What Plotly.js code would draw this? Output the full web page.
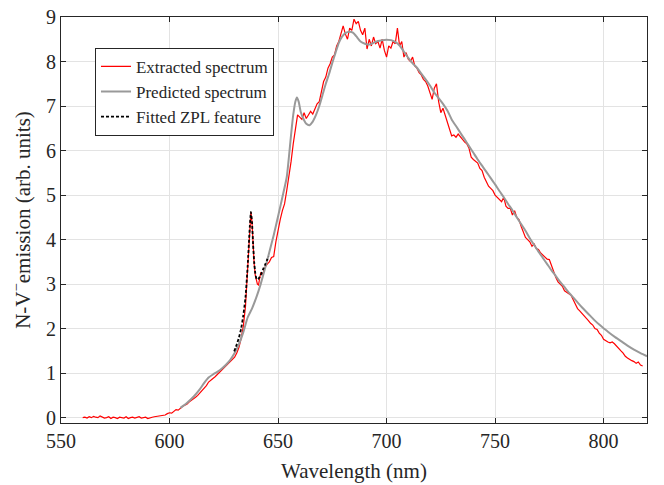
<!DOCTYPE html>
<html>
<head>
<meta charset="utf-8">
<script src="https://cdn.plot.ly/plotly-3.0.1.min.js"></script>
<style>html,body{margin:0;padding:0;background:#fff;}#chart{width:664px;height:485px;}</style>
</head>
<body>
<div id="chart"></div>
<script>
// Extracted spectrum (red)
var extractedWl = [560,561,562,563,564,565,566,567,568,569,570,571,572,573,574,575,576,577,578,579,580,581,582,583,584,585,586,587,588,589,590,591,592,593,594,595,596,597,598,599,
600,601,602,603,604,605,606,607,608,609,610,611,612,613,614,615,616,617,618,619,620,621,622,623,624,625,626,627,628,629,630,631,632,633,634,635,636,637,637.5,638,638.5,639,639.5,640,640.5,641,641.5,642,643,644,645,646,647,648,649,
650,651,652,653,654,655,656,657,658,659,660,661,662,663,664,665,666,667,668,669,670,671,672,673,674,675,676,677,678,679,680,681,682,683,684,685,686,687,688,689,690,691,692,693,694,695,696,697,698,699,
700,701,702,703,704,705,706,707,708,709,710,711,712,713,714,715,716,717,718,719,720,721,722,723,724,725,726,727,728,729,730,731,732,733,734,735,736,737,738,739,740,741,742,743,744,745,746,747,748,749,
750,751,752,753,754,755,756,757,758,759,760,761,762,763,764,765,766,767,768,769,770,771,772,773,774,775,776,777,778,779,780,781,782,783,784,785,786,787,788,789,790,791,792,793,794,795,796,797,798,799,
800,801,802,803,804,805,806,807,808,809,810,811,812,813,814,815,816,817,818];
var extractedVal = [0.00,0.01,-0.01,0.02,0.00,0.03,0.01,0.00,0.04,0.01,-0.01,0.00,0.02,-0.02,0.01,0.00,-0.02,0.01,0.00,-0.01,0.02,-0.02,0.00,0.01,-0.01,0.00,0.02,-0.01,0.00,0.01,-0.02,0.00,0.01,0.02,0.03,0.04,0.05,0.06,0.06,0.09,
0.11,0.10,0.14,0.18,0.17,0.22,0.25,0.28,0.30,0.35,0.38,0.42,0.46,0.50,0.55,0.60,0.66,0.72,0.80,0.85,0.88,0.92,0.97,1.02,1.05,1.10,1.15,1.20,1.26,1.30,1.36,1.45,1.58,1.78,2.05,2.50,3.30,4.30,4.62,4.40,3.85,3.45,3.20,3.08,3.00,2.98,3.10,3.25,3.22,3.38,3.45,3.50,3.60,3.62,3.95,
4.25,4.45,4.65,4.80,5.10,5.40,5.75,6.15,6.45,6.80,6.75,6.70,6.85,6.72,6.80,6.88,6.82,6.95,7.05,7.10,7.30,7.55,7.65,7.85,7.95,8.10,8.15,8.35,8.45,8.60,8.80,8.62,8.50,8.75,8.70,8.95,8.85,8.90,8.70,8.60,8.75,8.28,8.50,8.35,8.55,8.40,8.45,8.30,8.50,8.25,
8.10,8.35,8.30,8.45,8.40,8.75,8.35,8.45,8.10,8.20,8.05,8.00,8.10,7.90,7.85,7.75,7.70,7.60,7.55,7.45,7.30,7.15,7.40,7.50,7.10,6.85,6.95,6.80,6.60,6.45,6.33,6.35,6.30,6.37,6.30,6.25,6.19,6.15,6.05,5.85,5.80,5.75,5.72,5.60,5.55,5.40,5.30,5.20,5.15,5.10,
5.00,4.95,4.90,4.85,4.95,4.75,4.70,4.70,4.55,4.65,4.50,4.45,4.30,4.15,4.05,4.00,3.95,3.85,3.90,3.80,3.78,3.70,3.65,3.60,3.56,3.55,3.40,3.30,3.15,3.05,3.00,2.95,2.85,2.82,2.80,2.75,2.65,2.55,2.45,2.40,2.35,2.28,2.25,2.18,2.12,2.08,2.00,1.98,1.90,1.85,
1.76,1.72,1.70,1.68,1.70,1.66,1.60,1.55,1.50,1.45,1.38,1.34,1.30,1.28,1.26,1.22,1.25,1.18,1.16];

// Predicted spectrum (grey)
var predictedWl = [605,608,610,612,614,616,618,620,622,624,626,628,630,632,634,636,638,640,642,644,646,648,650,652,654,655,656,657,658,658.7,659.5,660.5,662,663,664.5,666,667.5,669,670.5,672,673.5,675,676.5,678,679.5,681,683,684.5,686,688,690,692,694,696,698,700,702,704,706,708,710,712,714,716,718,720,722,724,726,728,730,732,734,736,738,740,742,744,746,748,750,752,754,756,758,760,762,764,766,768,770,772,774,776,778,780,782,784,786,788,790,792,794,796,798,800,802,805,808,811,814,817,820];
var predictedVal = [0.22,0.33,0.42,0.52,0.64,0.78,0.90,0.97,1.03,1.10,1.19,1.30,1.45,1.65,1.92,2.25,2.45,2.70,3.00,3.35,3.72,4.10,4.52,4.95,5.40,5.85,6.35,6.80,7.10,7.19,7.10,6.86,6.68,6.60,6.57,6.65,6.80,7.00,7.25,7.50,7.72,7.97,8.20,8.42,8.56,8.64,8.67,8.65,8.57,8.45,8.40,8.38,8.42,8.46,8.48,8.49,8.48,8.44,8.36,8.22,8.08,7.96,7.86,7.73,7.60,7.46,7.30,7.18,7.05,6.90,6.70,6.55,6.40,6.25,6.10,5.95,5.80,5.66,5.52,5.38,5.24,5.09,4.95,4.80,4.66,4.50,4.35,4.20,4.03,3.88,3.73,3.59,3.45,3.31,3.18,3.05,2.93,2.81,2.70,2.59,2.48,2.38,2.28,2.18,2.09,2.01,1.93,1.82,1.72,1.62,1.53,1.45,1.38];

// Fitted ZPL feature (black dashed)
var zplWl = [629.8,631,632,633,634,635,636,637,637.5,638,638.5,639,639.5,640,640.5,641,642,643,644,645,645.6];
var zplVal = [1.49,1.65,1.80,2.00,2.30,2.70,3.40,4.30,4.62,4.40,3.90,3.50,3.25,3.13,3.10,3.12,3.20,3.32,3.43,3.55,3.62];

var xTicks = [550,600,650,700,750,800];
var yTicks = [0,1,2,3,4,5,6,7,8,9];

var traces = [
  {x: extractedWl, y: extractedVal, type: 'scatter', mode: 'lines', name: 'Extracted spectrum',
   line: {color: '#ff0000', width: 1.2}},
  {x: predictedWl, y: predictedVal, type: 'scatter', mode: 'lines', name: 'Predicted spectrum',
   line: {color: '#999999', width: 2, shape: 'spline', smoothing: 0.6}},
  {x: zplWl, y: zplVal, type: 'scatter', mode: 'lines', name: 'Fitted ZPL feature',
   line: {color: '#000000', width: 1.8, dash: '3px,2px', shape: 'spline', smoothing: 0.5}}
];

var serif = 'Liberation Serif, Times New Roman, serif';
var axisCommon = {
  showline: true, linecolor: '#262626', linewidth: 1, mirror: 'allticks',
  ticks: 'inside', ticklen: 5, tickwidth: 1, tickcolor: '#262626',
  showgrid: true, gridcolor: '#e3e3e3', gridwidth: 1, zeroline: false,
  tickfont: {family: serif, size: 20, color: '#262626'}
};

var layout = {
  width: 664, height: 485,
  margin: {l: 61, r: 17, t: 17, b: 62, pad: 0},
  paper_bgcolor: '#ffffff', plot_bgcolor: '#ffffff',
  font: {family: serif, color: '#262626'},
  showlegend: true,
  legend: {x: 0.058, y: 0.924, xanchor: 'left', yanchor: 'top',
    bgcolor: '#ffffff', bordercolor: '#262626', borderwidth: 1,
    font: {family: serif, size: 17, color: '#262626'},
    tracegroupgap: 0, itemwidth: 30},
  xaxis: Object.assign({}, axisCommon, {
    range: [550, 820], tickvals: xTicks, ticktext: xTicks.map(String),
    title: {text: 'Wavelength (nm)', font: {family: serif, size: 21, color: '#262626'}, standoff: 12}
  }),
  yaxis: Object.assign({}, axisCommon, {
    range: [-0.12, 9], tickvals: yTicks, ticktext: yTicks.map(String),
    title: {text: 'N-V<sup>\u2212</sup>emission (arb. units)', font: {family: serif, size: 21, color: '#262626'}, standoff: 9}
  })
};

Plotly.newPlot('chart', traces, layout, {displayModeBar: false, staticPlot: true});
</script>
</body>
</html>
